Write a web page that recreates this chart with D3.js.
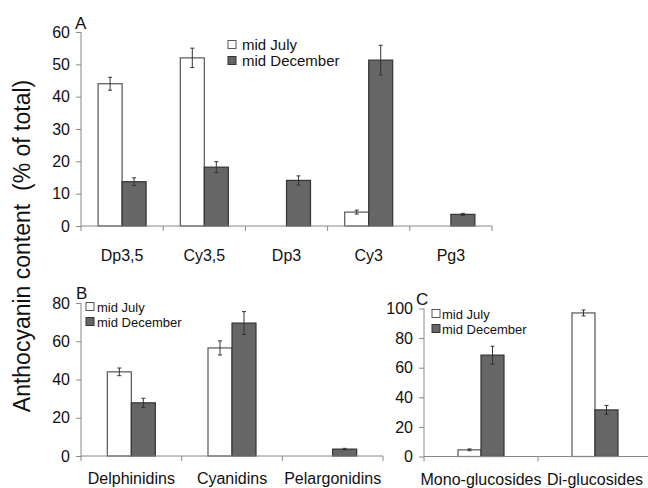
<!DOCTYPE html>
<html><head><meta charset="utf-8">
<script src="https://cdn.jsdelivr.net/npm/d3@7"></script>
<style>body{margin:0;background:#fff}svg{display:block}text{font-family:"Liberation Sans",Arial,sans-serif;fill:#111}</style>
</head><body><svg id="c" width="648" height="488"></svg>
<script>
const series = ["mid July", "mid December"];
const catsA = ["Dp3,5", "Cy3,5", "Dp3", "Cy3", "Pg3"];
const julyA = [44, 52, 0, 4.3, 0];
const julyErrA = [2, 3, 0, 0.6, 0];
const decA = [13.7, 18.2, 14.1, 51.3, 3.6];
const decErrA = [1.2, 1.7, 1.4, 4.6, 0.3];
const ticksA = [0, 10, 20, 30, 40, 50, 60];

const catsB = ["Delphinidins", "Cyanidins", "Pelargonidins"];
const julyB = [44, 56.5, 0];
const julyErrB = [2, 3.7, 0];
const decB = [27.8, 69.5, 3.6];
const decErrB = [2.4, 6, 0.4];
const ticksB = [0, 20, 40, 60, 80];

const catsC = ["Mono-glucosides", "Di-glucosides"];
const julyC = [4.5, 97];
const julyErrC = [0.6, 2];
const decC = [68.5, 31.5];
const decErrC = [6, 3];
const ticksC = [0, 20, 40, 60, 80, 100];

const svg = d3.select("#c");
const fills = ["#ffffff", "#666666"];
const strokes = ["#555", "#333"];

function panel(o) {
  const g = svg.append("g");
  const x = d3.scaleBand().domain(o.cats).range([o.x0, o.x1]).padding(0);
  const y = d3.scaleLinear().domain([0, o.max]).range([o.y0, o.y1]);
  const bw = x.bandwidth();
  const xs = d3.scaleBand().domain(series).range([bw / 2 - o.barW, bw / 2 + o.barW]);
  const vals = [o.july, o.dec], errs = [o.julyErr, o.decErr];

  // y axis
  const ya = g.append("g").attr("transform", `translate(${o.x0},0)`)
    .call(d3.axisLeft(y).tickValues(o.ticks).tickSize(5).tickPadding(6));
  ya.select(".domain").attr("stroke", "#888").attr("d", `M-0,${o.y0}V${o.y1}`);
  ya.selectAll(".tick line").attr("stroke", "#888");
  ya.selectAll(".tick text").style("font-size", "16px").style("font-family", '"Liberation Sans",Arial,sans-serif').attr("fill", "#111");

  // bars
  series.forEach((s, si) => {
    o.cats.forEach((c, i) => {
      const v = vals[si][i];
      if (v <= 0) return;
      const bx = x(c) + xs(s);
      g.append("rect").attr("x", bx).attr("y", y(v)).attr("width", xs.bandwidth())
        .attr("height", y(0) - y(v)).attr("fill", fills[si]).attr("stroke", strokes[si]).attr("stroke-width", 1.2);
      const e = errs[si][i];
      if (e > 0) {
        const cx = bx + xs.bandwidth() / 2;
        g.append("path").attr("d",
          `M${cx},${y(v + e)}V${y(v - e)}M${cx - 2},${y(v + e)}H${cx + 2}M${cx - 2},${y(v - e)}H${cx + 2}`)
          .attr("stroke", "#333").attr("stroke-width", 1).attr("fill", "none");
      }
    });
  });

  // x axis
  const xa = g.append("g").attr("transform", `translate(0,${o.y0})`)
    .call(d3.axisBottom(x).tickSize(0).tickPadding(o.labPad));
  xa.select(".domain").attr("stroke", "#888").attr("d", `M${o.x0},0H${o.x1}`);
  xa.selectAll(".tick text").style("font-size", "16px").style("font-family", '"Liberation Sans",Arial,sans-serif').attr("fill", "#111");
  o.cats.concat([null]).forEach((c, i) => {
    const tx = c === null ? o.x1 : x(c);
    g.append("line").attr("x1", tx).attr("x2", tx).attr("y1", o.y0).attr("y2", o.y0 + 5).attr("stroke", "#888");
  });

  // panel letter
  g.append("text").attr("x", o.lx).attr("y", o.ly).style("font-size", "17px").text(o.letter);

  // legend
  series.forEach((s, si) => {
    const ry = o.legY + si * o.legDy;
    g.append("rect").attr("x", o.legX).attr("y", ry - 4.5).attr("width", 8).attr("height", 8)
      .attr("fill", fills[si]).attr("stroke", strokes[si]);
    g.append("text").attr("x", o.legTx).attr("y", ry).attr("dy", "0.35em").style("font-size", o.legFont).text(s);
  });
}

panel({cats: catsA, july: julyA, julyErr: julyErrA, dec: decA, decErr: decErrA, ticks: ticksA, max: 60,
  x0: 81, x1: 492, y0: 226, y1: 32, barW: 24, labPad: 24, letter: "A", lx: 75, ly: 29,
  legX: 228, legTx: 242, legY: 45, legDy: 16, legFont: "15px"});
panel({cats: catsB, july: julyB, julyErr: julyErrB, dec: decB, decErr: decErrB, ticks: ticksB, max: 80,
  x0: 81, x1: 383, y0: 456, y1: 303, barW: 24, labPad: 17, letter: "B", lx: 76, ly: 299,
  legX: 86, legTx: 97, legY: 307, legDy: 15, legFont: "13px"});
panel({cats: catsC, july: julyC, julyErr: julyErrC, dec: decC, decErr: decErrC, ticks: ticksC, max: 100,
  x0: 424, x1: 652, y0: 456.5, y1: 308.5, barW: 23, labPad: 17, letter: "C", lx: 416, ly: 305,
  legX: 432, legTx: 442, legY: 314, legDy: 15, legFont: "13px"});

svg.append("text").attr("transform", "translate(30,246) rotate(-90)").attr("text-anchor", "middle")
  .style("font-size", "23px").attr("xml:space", "preserve").text("Anthocyanin content  (% of total)");
</script></body></html>
